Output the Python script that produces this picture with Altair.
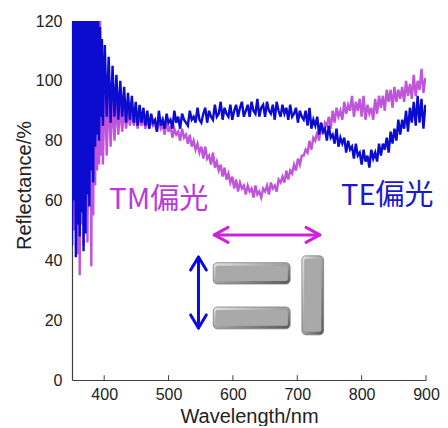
import altair as alt
import pandas as pd

# sampling grid (nm): finer at the short-wavelength end
wavelength = [350 + 1.5 * k for k in range(33)] + [401 + 3 * i for i in range(167)]

# TE polarisation reflectance (%)
te = [45, 125, 60, 125, 41, 125, 52, 125, 48, 125,
      56, 125, 43, 125, 49, 125, 62, 125, 58, 125,
      70, 125, 66, 125, 78, 125, 82, 125, 80, 118,
      88, 114, 85,
      112, 88, 108,
      86, 105, 88, 102, 87, 100, 88, 98, 86, 96,
      87, 95, 86, 93, 85, 92, 86, 91, 85, 90,
      84, 89, 86, 87, 83, 90, 85, 87, 84, 89,
      86, 87, 84, 90, 86, 88, 84, 89, 87, 86,
      85, 90, 87, 88, 86, 91, 87, 86, 89, 91,
      86, 90, 88, 87, 92, 88, 89, 93, 87, 91,
      89, 88, 92, 87, 90, 92, 88, 91, 93, 88,
      90, 92, 88, 93, 90, 89, 94, 88, 91, 92,
      88, 93, 90, 89, 92, 87, 93, 90, 88, 92,
      89, 91, 87, 92, 88, 89, 91, 86, 90, 88,
      87, 90, 85, 91, 84, 87, 85, 88, 82, 86,
      83, 84, 80, 85, 81, 82, 79, 84, 78, 81,
      79, 81, 76, 80, 77, 78, 74, 79, 75, 76,
      72, 77, 73, 75, 71, 77, 74, 76, 73, 79,
      75, 79, 77, 81, 76, 83, 79, 84, 80, 87,
      82, 87, 84, 90, 83, 91, 86, 93, 85, 95,
      86, 94, 84, 92]

# TM polarisation reflectance (%)
tm = [60, 120, 50, 125, 55, 118, 42, 125, 35, 110,
      52, 125, 45, 122, 58, 125, 46, 100, 60, 118,
      38, 110, 55, 125, 65, 115, 70, 125, 72, 125,
      75, 108, 72,
      100, 75, 98,
      78, 95, 80, 94, 82, 92, 83, 91, 84, 90,
      85, 90, 85, 89, 84, 89, 85, 88, 84, 88,
      84, 87, 85, 86, 83, 88, 84, 85, 82, 87,
      83, 85, 81, 84, 82, 83, 80, 84, 81, 82,
      79, 82, 78, 80, 77, 79, 76, 78, 74, 78,
      74, 75, 72, 76, 71, 73, 70, 72, 68, 71,
      67, 69, 66, 68, 64, 67, 63, 66, 64, 65,
      62, 65, 63, 64, 61, 65, 62, 63, 61, 64,
      63, 65, 62, 66, 64, 65, 63, 67, 66, 68,
      66, 70, 67, 70, 69, 72, 70, 74, 72, 75,
      75, 77, 76, 80, 77, 81, 80, 83, 80, 86,
      82, 86, 85, 88, 84, 90, 86, 91, 88, 90,
      87, 93, 89, 92, 90, 95, 88, 93, 90, 94,
      88, 95, 87, 92, 89, 91, 87, 94, 89, 95,
      91, 95, 90, 97, 93, 97, 91, 98, 93, 97,
      94, 98, 93, 100, 95, 99, 94, 102, 95, 100,
      97, 104, 96, 101]

x_ticks = [400, 500, 600, 700, 800, 900]
y_ticks = [0, 20, 40, 60, 80, 100, 120]

# annotation labels
label_text = ["TM偏光", "TE偏光"]
label_x = [408, 768]
label_y = [57, 58.5]

# nanorod illustration
bar_x = [569.5, 569.5, 707.2]
bar_x2 = [688.9, 688.9, 740.9]
bar_y = [39.2, 24.4, 41.5]
bar_y2 = [32.1, 17.1, 15.1]

# arrows (segment id, point order, x, y)
tm_arrow_seg = [0, 0, 1, 1, 1, 2, 2, 2]
tm_arrow_ord = [0, 1, 0, 1, 2, 0, 1, 2]
tm_arrow_x = [571, 735, 592.4, 571, 592.4, 713.6, 735, 713.6]
tm_arrow_y = [48.5, 48.5, 51.0, 48.5, 46.0, 51.0, 48.5, 46.0]

te_arrow_seg = [0, 0, 1, 1, 1, 2, 2, 2]
te_arrow_ord = [0, 1, 0, 1, 2, 0, 1, 2]
te_arrow_x = [546.5, 546.5, 534.3, 546.5, 558.7, 534.3, 546.5, 558.7]
te_arrow_y = [41.1, 17.4, 36.75, 41.1, 36.75, 21.75, 17.4, 21.75]

FONT = "Liberation Sans"
TXT = "#222222"

df = pd.DataFrame({"wl": wavelength, "te": te, "tm": tm})
df_ticks = pd.DataFrame({"wl": x_ticks, "y0": [0] * len(x_ticks), "y1": [1.6] * len(x_ticks)})
df_lab = pd.DataFrame({"x": label_x, "y": label_y, "t": label_text, "c": ["TM", "TE"]})
df_bar = pd.DataFrame({"x": bar_x, "x2": bar_x2, "y": bar_y, "y2": bar_y2})
df_inner = pd.DataFrame({
    "x": [v + 3.5 for v in bar_x], "x2": [v - 3.5 for v in bar_x2],
    "y": [v - 1.0 for v in bar_y], "y2": [v + 1.0 for v in bar_y2]})
df_tma = pd.DataFrame({"seg": tm_arrow_seg, "o": tm_arrow_ord, "x": tm_arrow_x, "y": tm_arrow_y})
df_tea = pd.DataFrame({"seg": te_arrow_seg, "o": te_arrow_ord, "x": te_arrow_x, "y": te_arrow_y})

xscale = alt.Scale(domain=[350, 900], nice=False, zero=False)
yscale = alt.Scale(domain=[0, 120], nice=False)

xaxis = alt.Axis(values=x_ticks, ticks=False, grid=False, labelFontSize=16, labelPadding=6,
                 labelFont=FONT, labelColor=TXT, title="Wavelength/nm", titleFont=FONT,
                 titleFontSize=20, titleFontWeight="normal", titleColor=TXT, titlePadding=4,
                 domainColor="#404040", domainWidth=1.2, labelFlush=False)
yaxis = alt.Axis(values=y_ticks, ticks=False, grid=False, labelFontSize=16, labelPadding=10,
                 labelFont=FONT, labelColor=TXT, title="Reflectance/%", titleFont=FONT,
                 titleFontSize=20, titleFontWeight="normal", titleColor=TXT, titlePadding=1,
                 titleY=164, domainColor="#404040", domainWidth=1.2, labelFlush=False)

tm_line = alt.Chart(df).mark_line(color="#c055dc", strokeWidth=2.4, clip=True).encode(
    x=alt.X("wl:Q", scale=xscale, axis=xaxis),
    y=alt.Y("tm:Q", scale=yscale, axis=yaxis))
te_line = alt.Chart(df).mark_line(color="#0c0cd0", strokeWidth=2.4, clip=True).encode(
    x="wl:Q", y="te:Q")

ticks = alt.Chart(df_ticks).mark_rule(color="#404040", strokeWidth=1).encode(
    x="wl:Q", y="y0:Q", y2="y1:Q")

labels = alt.Chart(df_lab).mark_text(align="left", baseline="alphabetic",
                                     font="Noto Sans CJK JP", fontSize=29).encode(
    x="x:Q", y="y:Q", text="t:N",
    color=alt.Color("c:N", scale=alt.Scale(domain=["TM", "TE"], range=["#b93ad8", "#1a1acc"]),
                    legend=None))

grad = alt.Gradient(gradient="linear", x1=0, y1=0, x2=1, y2=1,
                    stops=[alt.GradientStop(color="#e8e8e8", offset=0),
                           alt.GradientStop(color="#a0a0a0", offset=0.5),
                           alt.GradientStop(color="#555555", offset=1)])
bars = alt.Chart(df_bar).mark_rect(fill=grad, cornerRadius=4, stroke="#7a7a7a",
                                   strokeWidth=0.8).encode(
    x="x:Q", x2="x2:Q", y="y:Q", y2="y2:Q")
inner = alt.Chart(df_inner).mark_rect(fill="#a9a9a9", cornerRadius=2).encode(
    x="x:Q", x2="x2:Q", y="y:Q", y2="y2:Q")

tm_arrow = alt.Chart(df_tma).mark_line(color="#cc22dd", strokeWidth=3, strokeCap="round",
                                       strokeJoin="round").encode(
    x="x:Q", y="y:Q", detail="seg:N", order="o:Q")
te_arrow = alt.Chart(df_tea).mark_line(color="#0a0ae0", strokeWidth=3, strokeCap="round",
                                       strokeJoin="round").encode(
    x="x:Q", y="y:Q", detail="seg:N", order="o:Q")

chart = alt.layer(tm_line, te_line, ticks, labels, bars, inner, tm_arrow, te_arrow).properties(
    width=354, height=359,
    autosize=alt.AutoSizeParams(type="none"),
    padding={"left": 64, "top": 13, "right": 14, "bottom": 46},
    background="white",
).configure_view(stroke=None)

chart.save("out.html", embed_options={"renderer": "svg", "actions": False})
